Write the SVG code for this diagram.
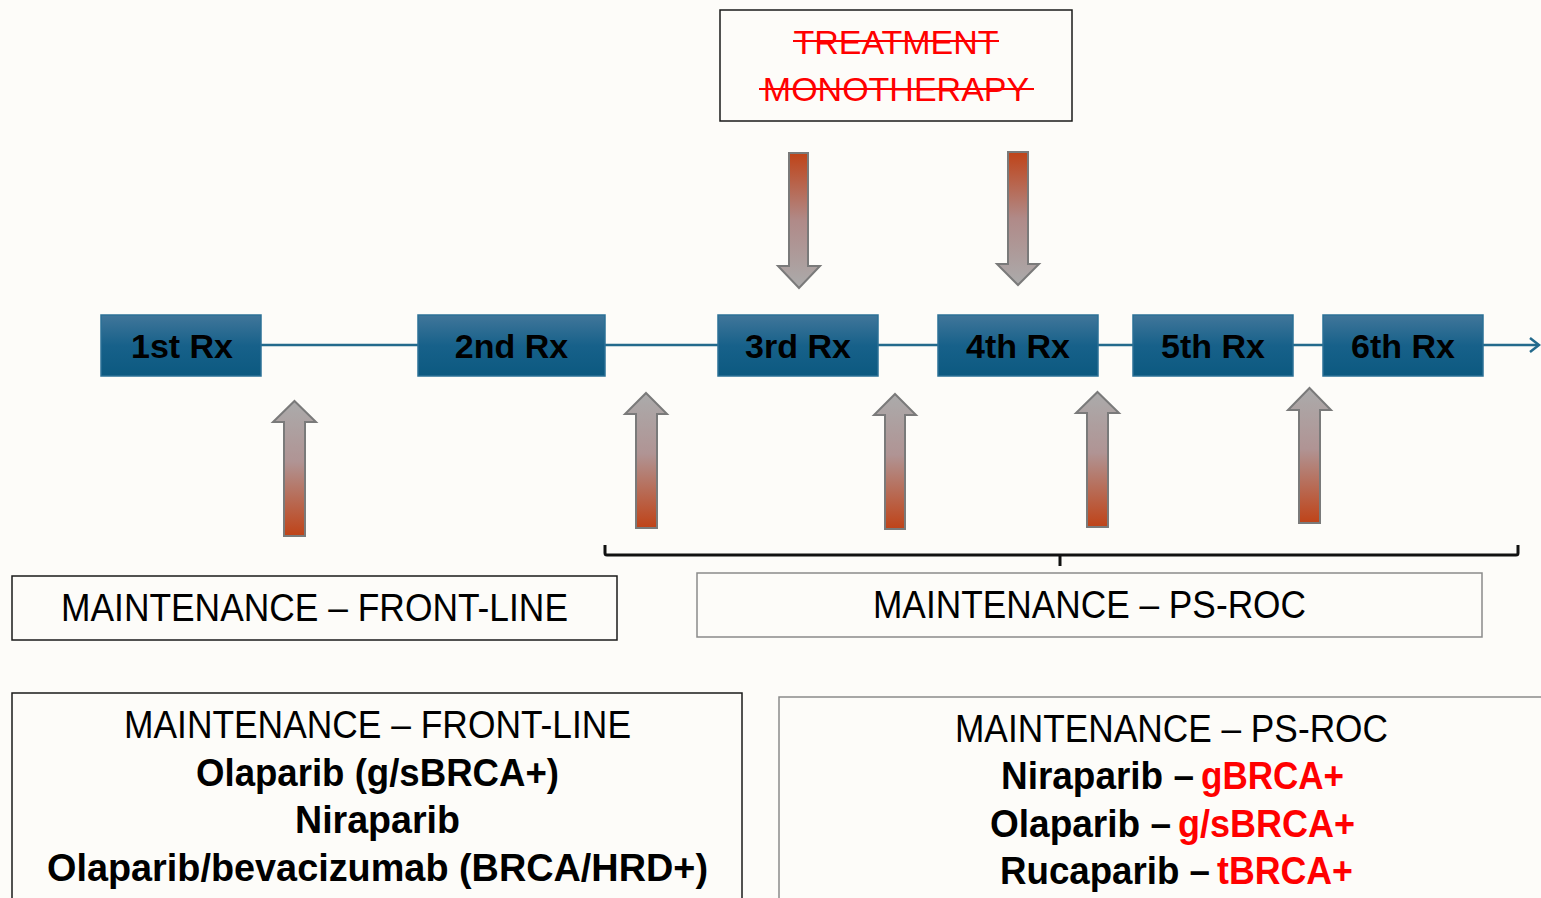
<svg xmlns="http://www.w3.org/2000/svg" width="1541" height="898" viewBox="0 0 1541 898">
<defs>
<linearGradient id="rxg" x1="0" y1="0" x2="0" y2="1">
<stop offset="0" stop-color="#41769a"/>
<stop offset="0.5" stop-color="#17618a"/>
<stop offset="1" stop-color="#0c5980"/>
</linearGradient>
<linearGradient id="upg" x1="0" y1="0" x2="0" y2="1">
<stop offset="0" stop-color="#ababab"/>
<stop offset="0.45" stop-color="#b09494"/>
<stop offset="1" stop-color="#bf4318"/>
</linearGradient>
<linearGradient id="dng" x1="0" y1="0" x2="0" y2="1">
<stop offset="0" stop-color="#bf4318"/>
<stop offset="0.5" stop-color="#b08a88"/>
<stop offset="1" stop-color="#ababab"/>
</linearGradient>
<style>
.rx{fill:url(#rxg);stroke:#2b7096;stroke-width:1.5}
.rxt{font-family:"Liberation Sans",Arial,sans-serif;font-weight:bold;font-size:34px;fill:#000;text-anchor:middle}
.up{fill:url(#upg);stroke:#7a7a7a;stroke-width:2}
.dn{fill:url(#dng);stroke:#7a7a7a;stroke-width:2}
.box{fill:#fdfcf9;stroke:#1a1a1a;stroke-width:1.5}
.boxg{fill:#fdfcf9;stroke:#8a8a8a;stroke-width:1.5}
.cn{font-family:"Liberation Sans",Arial,sans-serif;font-size:38px;fill:#000}
.b{font-weight:bold}
.red{fill:#ff0000}
.strike{font-family:"Liberation Sans",Arial,sans-serif;font-size:34px;fill:#ff0000;text-anchor:middle}
</style>
</defs>
<rect x="0" y="0" width="1541" height="898" fill="#fdfcf9"/>

<g id="connectors">
<line x1="261" y1="345" x2="1538" y2="345" stroke="#236a8c" stroke-width="2.5"/>
<polyline points="1530,338 1539,345 1530,352" fill="none" stroke="#236a8c" stroke-width="2.5"/>
<path d="M605,545 L605,553 Q605,555 607,555 L1516,555 Q1518,555 1518,553 L1518,545 M1060,555 L1060,566" fill="none" stroke="#111" stroke-width="3"/>
</g>

<g id="treatment-box">
<rect x="720" y="10" width="352" height="111" class="box"/>
<text x="896" y="54" class="strike">TREATMENT</text>
<text x="896" y="101" class="strike">MONOTHERAPY</text>
<line x1="793" y1="41" x2="999" y2="41" stroke="#ff0000" stroke-width="2"/>
<line x1="759" y1="89" x2="1034" y2="89" stroke="#ff0000" stroke-width="2"/>
</g>

<g id="down-arrow-1"><polygon class="dn" points="789,153 808,153 808,266 820,266 799,288 778,266 789,266"/></g>
<g id="down-arrow-2"><polygon class="dn" points="1008,152 1028,152 1028,264 1039,264 1018,285 997,264 1008,264"/></g>

<g id="rx1"><rect x="101" y="315" width="160" height="61" class="rx"/><text x="182" y="358" class="rxt">1st Rx</text></g>
<g id="rx2"><rect x="418" y="315" width="187" height="61" class="rx"/><text x="511.5" y="358" class="rxt">2nd Rx</text></g>
<g id="rx3"><rect x="718" y="315" width="160" height="61" class="rx"/><text x="798" y="358" class="rxt">3rd Rx</text></g>
<g id="rx4"><rect x="938" y="315" width="160" height="61" class="rx"/><text x="1018" y="358" class="rxt">4th Rx</text></g>
<g id="rx5"><rect x="1133" y="315" width="160" height="61" class="rx"/><text x="1213" y="358" class="rxt">5th Rx</text></g>
<g id="rx6"><rect x="1323" y="315" width="160" height="61" class="rx"/><text x="1403" y="358" class="rxt">6th Rx</text></g>

<g id="up-arrow-1"><polygon class="up" points="294.5,401 316,422 305,422 305,536 284,536 284,422 273,422"/></g>
<g id="up-arrow-2"><polygon class="up" points="646,393 667,414 657,414 657,528 636,528 636,414 625,414"/></g>
<g id="up-arrow-3"><polygon class="up" points="895,394 916,415 905,415 905,529 885,529 885,415 874,415"/></g>
<g id="up-arrow-4"><polygon class="up" points="1097.5,392 1119,413 1108,413 1108,527 1087,527 1087,413 1076,413"/></g>
<g id="up-arrow-5"><polygon class="up" points="1309.5,388 1331,410 1320,410 1320,523 1299,523 1299,410 1288,410"/></g>

<g id="front-line-label">
<rect x="12" y="576" width="605" height="64" class="box"/>
<text x="61" y="621" class="cn" textLength="507" lengthAdjust="spacingAndGlyphs">MAINTENANCE – FRONT-LINE</text>
</g>
<g id="ps-roc-label">
<rect x="697" y="573" width="785" height="64" class="boxg"/>
<text x="873" y="618" class="cn" textLength="433" lengthAdjust="spacingAndGlyphs">MAINTENANCE – PS-ROC</text>
</g>

<g id="front-line-detail">
<rect x="12" y="693" width="730" height="215" class="box"/>
<text x="124" y="738" class="cn" textLength="507" lengthAdjust="spacingAndGlyphs">MAINTENANCE – FRONT-LINE</text>
<text x="196" y="786" class="cn b" textLength="363" lengthAdjust="spacingAndGlyphs">Olaparib (g/sBRCA+)</text>
<text x="295" y="833" class="cn b" textLength="165" lengthAdjust="spacingAndGlyphs">Niraparib</text>
<text x="47" y="881" class="cn b" textLength="661" lengthAdjust="spacingAndGlyphs">Olaparib/bevacizumab (BRCA/HRD+)</text>
</g>

<g id="ps-roc-detail">
<rect x="779" y="697" width="780" height="215" class="boxg"/>
<text x="955" y="742" class="cn" textLength="433" lengthAdjust="spacingAndGlyphs">MAINTENANCE – PS-ROC</text>
<text x="1001" y="789" class="cn b" textLength="193" lengthAdjust="spacingAndGlyphs">Niraparib –</text>
<text x="1201" y="789" class="cn b red" textLength="143" lengthAdjust="spacingAndGlyphs">gBRCA+</text>
<text x="990" y="837" class="cn b" textLength="181" lengthAdjust="spacingAndGlyphs">Olaparib –</text>
<text x="1178" y="837" class="cn b red" textLength="177" lengthAdjust="spacingAndGlyphs">g/sBRCA+</text>
<text x="1000" y="884" class="cn b" textLength="210" lengthAdjust="spacingAndGlyphs">Rucaparib –</text>
<text x="1217" y="884" class="cn b red" textLength="136" lengthAdjust="spacingAndGlyphs">tBRCA+</text>
</g>
</svg>
